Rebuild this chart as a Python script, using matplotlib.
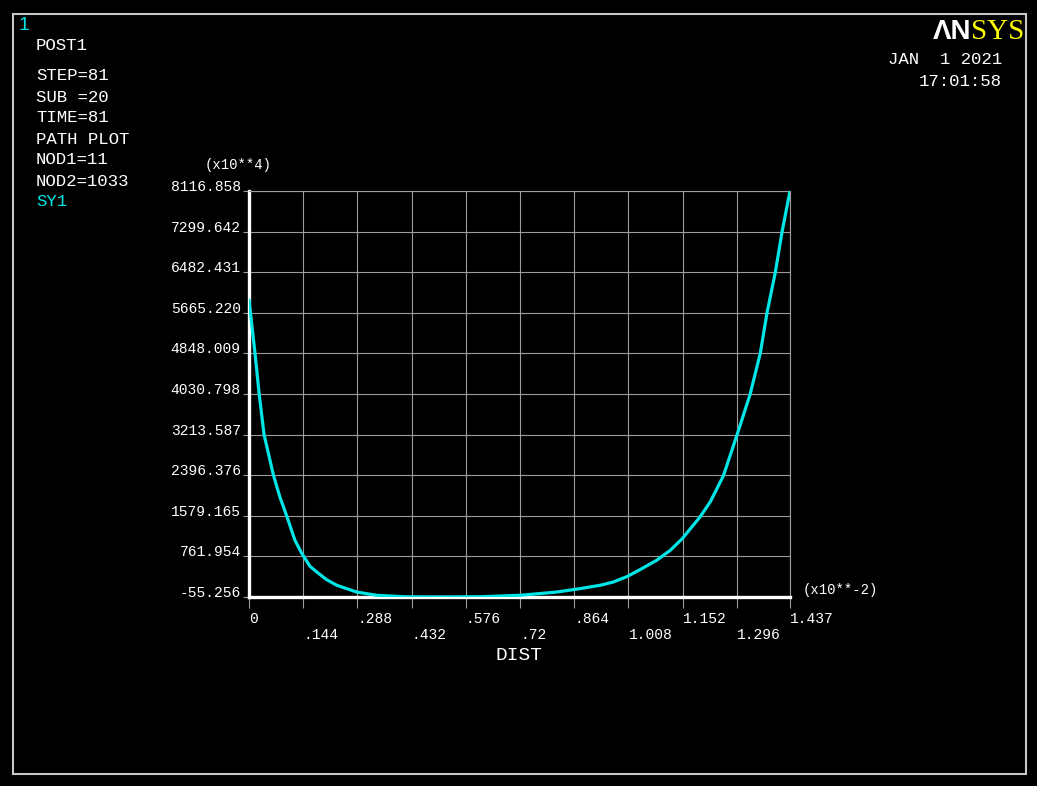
import matplotlib.pyplot as plt
from matplotlib.patches import Rectangle

W, H = 1037, 786

# path plot SY1 along DIST (x10**-2), values in (x10**4)
dist = [0, 0.016, 0.027, 0.040, 0.065, 0.082, 0.100, 0.122, 0.140, 0.162, 0.180,
        0.206, 0.233, 0.286, 0.339, 0.419, 0.508, 0.614, 0.720, 0.818, 0.880,
        0.933, 0.968, 1.004, 1.039, 1.083, 1.119, 1.151, 1.198, 1.225, 1.260,
        1.296, 1.331, 1.358, 1.376, 1.398, 1.416, 1.437]
sy1 = [5920, 4848, 4031, 3214, 2396, 1959, 1579, 1087, 825, 563, 448,
       295, 181, 45, -21, -52, -55.256, -50, -21, 45, 114,
       181, 247, 356, 497, 684, 885, 1121, 1556, 1858, 2382,
       3202, 4022, 4848, 5666, 6480, 7298, 8116.858]

xticks = [0, 0.144, 0.288, 0.432, 0.576, 0.72, 0.864, 1.008, 1.152, 1.296, 1.437]
xlabels = ['0', '.144', '.288', '.432', '.576', '.72', '.864', '1.008', '1.152', '1.296', '1.437']
yticks = [-55.256, 761.954, 1579.165, 2396.376, 3213.587, 4030.798, 4848.009,
          5665.220, 6482.431, 7299.642, 8116.858]
ylabels = ['%.3f' % v for v in yticks]

info_lines = ['STEP=81', 'SUB =20', 'TIME=81', 'PATH PLOT', 'NOD1=11', 'NOD2=1033']

mono = 'Liberation Mono'
cyan = '#00e6e6'
grid_col = '#9c9c9c'

def fx(px):
    return px / W

def fy(py):
    return 1 - py / H

fig = plt.figure(figsize=(W / 100, H / 100), dpi=100, facecolor='black')

# outer frame
fig.patches.append(Rectangle((fx(13), fy(774)), fx(1026) - fx(13), fy(14) - fy(774),
                             transform=fig.transFigure, fill=False,
                             edgecolor='#c8c8c8', lw=1.5))

ax_l, ax_r, ax_t, ax_b = 249, 790, 191, 597
ax = fig.add_axes([fx(ax_l), fy(ax_b), fx(ax_r) - fx(ax_l), fy(ax_t) - fy(ax_b)])
ax.set_facecolor('black')

ax.plot(dist, sy1, color=cyan, lw=2.3, zorder=3)

ax.set_xlim(0, 1.437)
ax.set_ylim(yticks[0], yticks[-1])

# alternate x labels on two rows
xl2 = [lab if i % 2 == 0 else '\n' + lab for i, lab in enumerate(xlabels)]
ax.set_xticks(xticks, xl2)
ax.set_yticks(yticks, ylabels)
ax.grid(True, color=grid_col, lw=0.8)
ax.tick_params(axis='x', colors=grid_col, length=8, width=0.8, pad=3,
               labelcolor='white', labelsize=10.5)
ax.tick_params(axis='y', colors=grid_col, length=4, width=0.8, pad=2,
               labelcolor='white', labelsize=10.5)
for lab in ax.get_xticklabels():
    lab.set_fontfamily(mono)
    lab.set_horizontalalignment('left')
    lab.set_linespacing(1.15)
for lab in ax.get_yticklabels():
    lab.set_fontfamily(mono)
    lab.set_verticalalignment('baseline')

for side in ['left', 'bottom']:
    ax.spines[side].set_color('white')
    ax.spines[side].set_linewidth(2.4)
for side in ['top', 'right']:
    ax.spines[side].set_color(grid_col)
    ax.spines[side].set_linewidth(0.8)

fig.text(fx(238), fy(165), '(x10**4)', color='white', family=mono, fontsize=10,
         ha='center', va='center')
fig.text(fx(803), fy(590), '(x10**-2)', color='white', family=mono, fontsize=10,
         ha='left', va='center')
fig.text(fx(519), fy(656), 'DIST', color='white', family=mono, fontsize=14,
         ha='center', va='center')

# header block
fig.text(fx(19), fy(25), '1', color=cyan, family='Liberation Sans', fontsize=14,
         ha='left', va='center')
fig.text(fx(36), fy(45), 'POST1', color='white', family=mono, fontsize=12.5,
         ha='left', va='center')
for i, line in enumerate(info_lines):
    fig.text(fx(36), fy(76 + 21 * i), line, color='white', family=mono,
             fontsize=12.5, ha='left', va='center')
fig.text(fx(36), fy(202), 'SY1', color=cyan, family=mono, fontsize=12.5,
         ha='left', va='center')

fig.text(fx(1002), fy(60), 'JAN  1 2021', color='white', family=mono,
         fontsize=12.5, ha='right', va='center')
fig.text(fx(1002), fy(81), '17:01:58', color='white', family=mono,
         fontsize=12.5, ha='right', va='center')

# ANSYS logo
fig.text(fx(1024), fy(39), 'SYS', color='#ffff00', family='Liberation Serif',
         fontsize=21, ha='right', va='baseline')
fig.text(fx(971), fy(39), '\u039bN', color='white', family='Liberation Sans',
         fontsize=20, fontweight='bold', ha='right', va='baseline')

fig.savefig('out.png', dpi=100, facecolor='black')
